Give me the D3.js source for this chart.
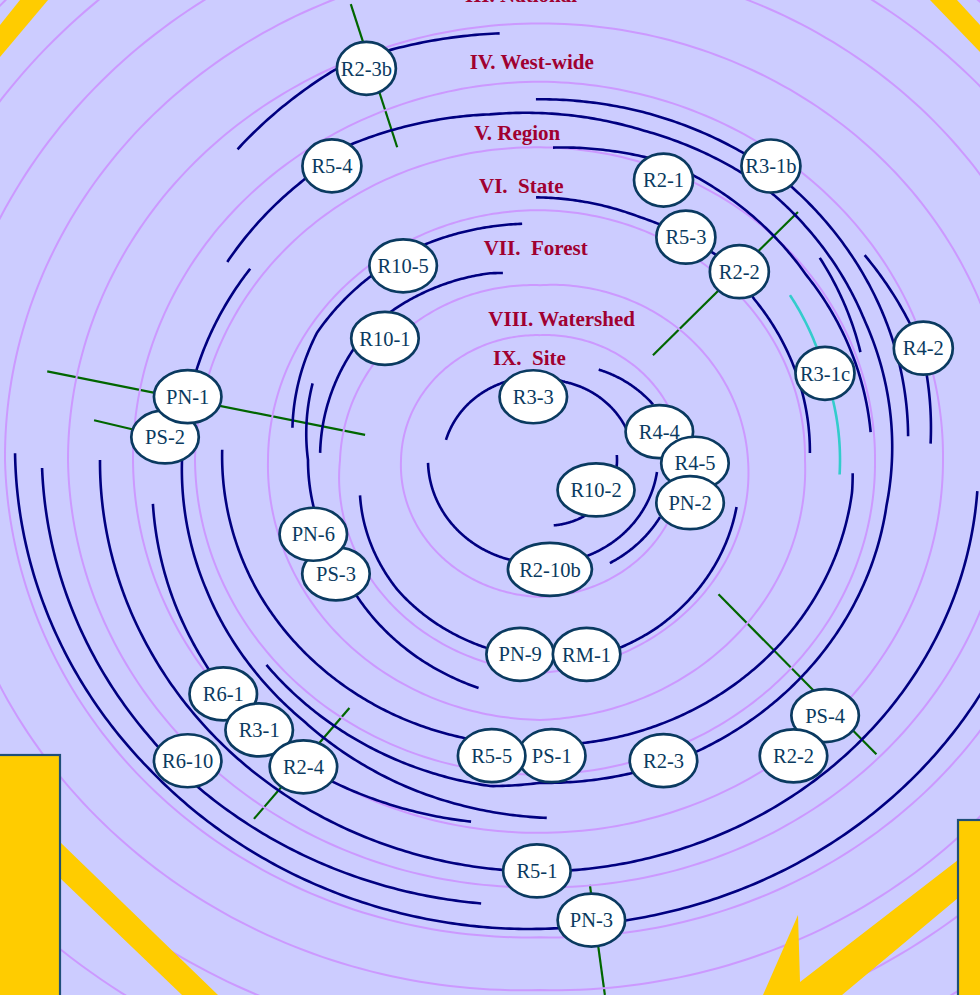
<!DOCTYPE html>
<html><head><meta charset="utf-8">
<script src="https://cdn.jsdelivr.net/npm/d3@7"></script>
<style>
html,body{margin:0;padding:0;background:#ccccff;}
svg{display:block;}
</style></head>
<body>
<svg id="chart" width="980" height="995"></svg>
<script>
// ================= DATA (polar values: angle in degrees, radius in diagram units) =================
const bandNames = ["III. National","IV. West-wide","V. Region","VI.  State","VII.  Forest","VIII. Watershed","IX.  Site"];
const bandLabelRadius = [495, 423, 346, 289, 222, 145, 103];

// scale rings (radius at top / right / bottom / left)
const ringTop    = [135,189,270,338,409,472,540,600,665,730];
const ringRight  = [143,208,265,335,403,472,536,595,660,725];
const ringBottom = [148,230,281,340,403,462,516,573,635,700];
const ringLeft   = [139,200,272,345,407,472,535,600,665,730];

// project arcs: control angles and radii
const arcAngles = [
  [-132,-116,-109,-95],
  [-145.6,-128,-119,-97.6,-74,-51,-25,8,63.6,90,98,141],
  [-90.6,-75,-52,-4],
  [-87.8,-72,-64,-37,-5.2],
  [-38,-20],
  [-34.3,-17.5,-2.6],
  [-90.8,-69,-58.8,-45.6,-39.4,-1.6],
  [-35.5,-18,3],
  [2.6,6.4,82,104.4,153.6,182],
  [4.4,90.4,152.2,180],
  [24,30,80,96,139,180.8],
  [97,134,142.5,179],
  [89,110,130,157,180,195.8,215.5],
  [100,121,134,146,159,173],
  [104,120,141,167,180,200],
  [188,211.6,229,243,259,266],
  [182,212,227,256,259.6],
  [14.5,58,68,77,95,105,135.5,168],
  [-167,-114.5,-73.5,-20.4],
  [-59,-28],
  [6.3,64,105.5,178.4],
  [-4,4,55,79],
  [27.2,57.9]
];
const arcRadii = [
  [452,469,468,463],
  [379,384,390,377,371,370,358,350,352,349,356,352],
  [390,390,389,369],
  [338,344,344,333,332],
  [355,341],
  [393,400,391],
  [284,281,282,284,276,270],
  [307,300,300],
  [313,314,309,310,316,318],
  [438.6,445,441,440],
  [508,508,505,508,514,525],
  [483,492,492,498],
  [387,378,368,362,358,357,356],
  [397,405,405,401,396,390],
  [254,246,235,232,232,242],
  [250,262,261,260,257,256],
  [220,221.6,219,208,205.5],
  [203,216,218,216,211,210,200,184],
  [96.5,91.5,88,92.8],
  [114,128],
  [117.7,114,112,112],
  [77,77,75,72],
  [135,131.5]
];
const arcKind = ["n","n","n","n","n","n","n","c","n","n","n","n","n","n","n","n","n","n","n","n","n","n","n"];

// project nodes
const nodeLabels = ["R2-3b","R5-4","R10-5","R10-1","PS-2","PN-1","R2-1","R3-1b","R5-3","R2-2","R4-2","R3-1c","R3-3","R4-4","R4-5","PN-2","R10-2","R2-10b","PS-3","PN-6","PN-9","RM-1","R6-1","R3-1","R2-4","R6-10","PS-1","R5-5","R2-3","PS-4","R2-2","R5-1","PN-3"];
const nodeAngles = [-112.3,-123.2,-123.1,-139.7,183.8,191,-67.8,-54,-58.8,-45.6,-17.5,-18.2,-95.6,-14.4,1.3,17.1,30,85.2,148.9,160.5,95.4,77.5,141.4,133.9,125.5,137.3,87.9,98.6,69.2,44.1,51.6,90.4,84.1];
const nodeRadii  = [457.6,380,250.6,203.3,375.8,358.9,326.9,392.9,281.6,284.9,401.9,300,68.7,123.2,155,157,64.7,118.6,238.3,240.5,211,215.2,405.3,405,407.4,479.4,319.9,323.3,347.7,397,408.1,444.3,500];

// boundary cut lines (start angle, start radius, end angle, end radius)
const cutA0 = [-111,-46.1,191,185.5,125.4,39.1,83.8];
const cutR0 = [528,372,502,448,329,230,462];
const cutA1 = [-112.9,-45.1,188.8,183.8,126.4,43.4,83.6];
const cutR1 = [367,160,177,376,482,463,582];

// ================= LAYOUT =================
const W = 980, H = 995, CX = 540, CY = 460, K = 0.925, EXT = 900;
const xS = d3.scaleLinear().domain([-EXT, EXT]).range([CX - EXT, CX + EXT]);
const yS = d3.scaleLinear().domain([-EXT, EXT]).range([CY - EXT * K, CY + EXT * K]);
const rad = d3.scaleLinear().domain([0, 360]).range([0, 2 * Math.PI]);
const labelX = d3.scaleLinear().domain([0, bandNames.length - 1]).range([465, 493]);

function P(theta, r) { const a = rad(theta); return [xS(r * Math.cos(a)), yS(r * Math.sin(a))]; }
function arcPts(angles, radii, step) {
  const idx = d3.range(angles.length).sort((i, j) => angles[i] - angles[j]);
  const A = idx.map(i => angles[i]), R = idx.map(i => radii[i]);
  const rS = d3.scaleLinear().domain(A).range(R);
  const a0 = A[0], a1 = A[A.length - 1];
  const n = Math.max(2, Math.ceil((a1 - a0) / (step || 0.5)));
  return d3.range(n + 1).map(i => { const t = a0 + (a1 - a0) * i / n; return P(t, rS(t)); });
}
const line = d3.line();

const svg = d3.select("#chart");
svg.append("rect").attr("width", W).attr("height", H).attr("fill", "#ccccff");

// cut lines (green)
svg.append("g").selectAll("line").data(d3.range(cutA0.length)).join("line")
  .attr("x1", i => P(cutA0[i], cutR0[i])[0]).attr("y1", i => P(cutA0[i], cutR0[i])[1])
  .attr("x2", i => P(cutA1[i], cutR1[i])[0]).attr("y2", i => P(cutA1[i], cutR1[i])[1])
  .attr("stroke", "#006600").attr("stroke-width", 2.2);

// scale rings
svg.append("g").selectAll("path").data(d3.range(ringTop.length)).join("path")
  .attr("d", i => line(arcPts([-90, 0, 90, 180, 270], [ringTop[i], ringRight[i], ringBottom[i], ringLeft[i], ringTop[i]], 1)) + "Z")
  .attr("fill", "none").attr("stroke", "#cc99ff").attr("stroke-width", 2);

// decorative corner shapes (drawn over the rings)
const deco = svg.append("g");
const yellow = "#ffcc00", frame = "#1f4f78";
[
  [[20,0],[48,0],[0,57],[0,25]],
  [[930,0],[957,0],[980,25],[980,52]],
  [[60,842],[218,995],[182,995],[60,878]],
  [[958,860],[800,982],[798,915],[763,995],[842,995],[958,898]]
].forEach(p => deco.append("polygon").attr("points", p.map(q => q.join(",")).join(" ")).attr("fill", yellow));
deco.append("rect").attr("x", -2).attr("y", 755).attr("width", 62).attr("height", 260)
  .attr("fill", yellow).attr("stroke", frame).attr("stroke-width", 2.2);
deco.append("rect").attr("x", 958).attr("y", 820).attr("width", 40).attr("height", 200)
  .attr("fill", yellow).attr("stroke", frame).attr("stroke-width", 2.2);

// project arcs
svg.append("g").selectAll("path").data(d3.range(arcAngles.length)).join("path")
  .attr("d", i => line(arcPts(arcAngles[i], arcRadii[i], 0.5)))
  .attr("fill", "none")
  .attr("stroke", i => arcKind[i] === "c" ? "#33cccc" : "#000080")
  .attr("stroke-width", 2.6);

// nodes
const compact = new Set([0, 1, 6, 7, 8, 9, 10, 11]);
const wide = { 16: 77, 17: 84 };
const nodeW = i => wide[i] || (compact.has(i) ? 59 : 67.5);
const ng = svg.append("g").selectAll("g").data(d3.range(nodeLabels.length)).join("g")
  .attr("transform", i => { const p = P(nodeAngles[i], nodeRadii[i]); return `translate(${p[0]},${p[1]})`; });
ng.append("ellipse").attr("rx", i => nodeW(i) / 2).attr("ry", 26.5)
  .attr("fill", "#ffffff").attr("stroke", "#0a3a60").attr("stroke-width", 2.7);
ng.append("text").text(i => nodeLabels[i])
  .attr("text-anchor", "middle").attr("dy", "0.35em")
  .attr("font-family", "'Liberation Serif','Times New Roman',serif").attr("font-size", 20.5)
  .attr("fill", "#0a3a60");

// band labels
svg.append("g").selectAll("text").data(d3.range(bandNames.length)).join("text")
  .attr("x", i => labelX(i)).attr("y", i => P(-90, bandLabelRadius[i])[1])
  .attr("xml:space", "preserve").style("white-space", "pre")
  .attr("font-family", "'Liberation Serif','Times New Roman',serif").attr("font-weight", "bold")
  .attr("font-size", 21).attr("fill", "#a00030")
  .text(i => bandNames[i]);
</script>
</body></html>
